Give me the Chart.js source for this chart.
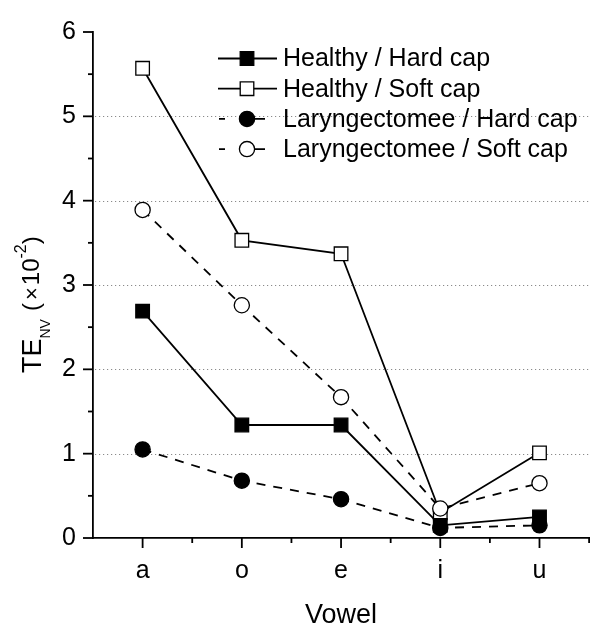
<!DOCTYPE html>
<html>
<head>
<meta charset="utf-8">
<script src="https://cdn.jsdelivr.net/npm/chart.js@4.4.1/dist/chart.umd.min.js"></script>
<style>
html,body{margin:0;padding:0;background:#fff;}
canvas{display:block;}
</style>
</head>
<body>
<canvas id="c" width="600" height="632"></canvas>
<script>
// ---- data ----
const categories = ['a', 'o', 'e', 'i', 'u'];
const healthyHard = [2.69, 1.34, 1.34, 0.15, 0.25];
const healthySoft = [5.57, 3.53, 3.37, 0.30, 1.01];
const laryHard    = [1.05, 0.68, 0.46, 0.12, 0.15];
const larySoft    = [3.89, 2.76, 1.67, 0.35, 0.65];
const seriesNames = ['Healthy / Hard cap', 'Healthy / Soft cap', 'Laryngectomee / Hard cap', 'Laryngectomee / Soft cap'];
const yTickValues = [0, 1, 2, 3, 4, 5, 6];
const yGridValues = [1, 2, 3, 4, 5];
const xTitle = 'Vowel';

const FONT = '"Liberation Sans", Arial, Helvetica, sans-serif';

function makeSet(label, data, style, filled, dashed) {
  return {
    label: label,
    data: data,
    borderColor: '#000',
    borderWidth: 1.8,
    borderDash: dashed ? [9, 8] : [],
    pointStyle: style,
    pointRadius: style === 'rect' ? 9.6 : 7.6,
    pointHoverRadius: style === 'rect' ? 9.6 : 7.6,
    pointBackgroundColor: filled ? '#000' : '#fff',
    pointBorderColor: '#000',
    pointBorderWidth: 1.3,
    tension: 0,
    fill: false,
    clip: false,
    order: dashed ? 0 : 1
  };
}

const datasets = [
  makeSet(seriesNames[0], healthyHard, 'rect', true, false),
  makeSet(seriesNames[1], healthySoft, 'rect', false, false),
  makeSet(seriesNames[2], laryHard, 'circle', true, true),
  makeSet(seriesNames[3], larySoft, 'circle', false, true)
];

// gridlines + tick marks through the chart's scales
const axesPlugin = {
  id: 'axesDecor',
  beforeDatasetsDraw(chart) {
    const {ctx, chartArea} = chart;
    const y = chart.scales.y;
    ctx.save();
    ctx.strokeStyle = '#8a8a8a';
    ctx.lineWidth = 1;
    ctx.setLineDash([1.2, 2.8]);
    yGridValues.forEach(v => {
      const py = Math.round(y.getPixelForValue(v)) + 0.5;
      ctx.beginPath();
      ctx.moveTo(chartArea.left + 2, py);
      ctx.lineTo(chartArea.right, py);
      ctx.stroke();
    });
    ctx.restore();
  },
  afterDraw(chart) {
    const {ctx, chartArea} = chart;
    const x = chart.scales.x, y = chart.scales.y;
    ctx.save();
    ctx.strokeStyle = '#000';
    ctx.lineWidth = 1.8;
    ctx.setLineDash([]);
    // y ticks (major at integers, minor at halves)
    for (let i = 0; i < yTickValues.length; i++) {
      const v = yTickValues[i];
      const py = y.getPixelForValue(v);
      ctx.beginPath(); ctx.moveTo(chartArea.left - 10, py); ctx.lineTo(chartArea.left, py); ctx.stroke();
      if (i < yTickValues.length - 1) {
        const pm = y.getPixelForValue((v + yTickValues[i + 1]) / 2);
        ctx.beginPath(); ctx.moveTo(chartArea.left - 5, pm); ctx.lineTo(chartArea.left, pm); ctx.stroke();
      }
    }
    // x ticks
    categories.forEach((c, i) => {
      const px = x.getPixelForValue(i);
      ctx.beginPath(); ctx.moveTo(px, chartArea.bottom); ctx.lineTo(px, chartArea.bottom + 10); ctx.stroke();
      const pm = x.getPixelForValue(i + 0.5);
      ctx.beginPath(); ctx.moveTo(pm, chartArea.bottom); ctx.lineTo(pm, chartArea.bottom + 5); ctx.stroke();
    });
    ctx.restore();

    // y axis title with subscript / superscript
    ctx.save();
    ctx.fillStyle = '#000';
    ctx.translate(40.5, 373);
    ctx.rotate(-Math.PI / 2);
    ctx.textBaseline = 'alphabetic';
    ctx.textAlign = 'left';
    const parts = [
      {t: 'TE', size: 27, dy: 0, gap: 0},
      {t: 'NV', size: 14, dy: 9.5, gap: 0},
      {t: '(', size: 24, dy: -2, gap: 8},
      {t: '\u00D7', size: 22, dy: -2, gap: 3},
      {t: '10', size: 24, dy: -2, gap: 2},
      {t: '-2', size: 16, dy: -14.5, gap: 0},
      {t: ')', size: 24, dy: -2, gap: 0}
    ];
    let cx = 0;
    parts.forEach(p => {
      cx += p.gap;
      ctx.font = p.size + 'px ' + FONT;
      ctx.fillText(p.t, cx, p.dy);
      cx += ctx.measureText(p.t).width;
    });
    ctx.restore();

    // legend
    ctx.save();
    chart.data.datasets.forEach((ds, i) => {
      const cy = 58.5 + i * 30.2;
      ctx.strokeStyle = '#000';
      ctx.lineWidth = 1.8;
      ctx.setLineDash([]);
      ctx.beginPath();
      if (ds.borderDash.length) {
        ctx.moveTo(219, cy); ctx.lineTo(225, cy);
        ctx.moveTo(254, cy); ctx.lineTo(265, cy);
      } else {
        ctx.moveTo(218, cy); ctx.lineTo(277, cy);
      }
      ctx.stroke();
      ctx.fillStyle = ds.pointBackgroundColor;
      ctx.lineWidth = ds.pointBorderWidth;
      ctx.beginPath();
      if (ds.pointStyle === 'rect') {
        const s = Math.SQRT1_2 * ds.pointRadius;
        ctx.rect(247 - s, cy - s, 2 * s, 2 * s);
      } else {
        ctx.arc(247, cy, ds.pointRadius, 0, Math.PI * 2);
      }
      ctx.fill();
      ctx.stroke();
      ctx.fillStyle = '#000';
      ctx.font = '25px ' + FONT;
      ctx.textBaseline = 'middle';
      ctx.textAlign = 'left';
      ctx.fillText(ds.label, 283, cy + 1);
    });
    ctx.restore();
  }
};

new Chart(document.getElementById('c'), {
  type: 'line',
  data: { labels: categories, datasets: datasets },
  plugins: [axesPlugin],
  options: {
    responsive: false,
    devicePixelRatio: 1,
    animation: false,
    layout: { padding: { left: 0, top: 18, right: 10, bottom: 0 } },
    plugins: { legend: { display: false }, tooltip: { enabled: false } },
    scales: {
      x: {
        type: 'category',
        offset: true,
        grid: { display: false, drawTicks: false },
        border: { display: true, color: '#000', width: 1.8 },
        ticks: { color: '#000', font: { family: FONT, size: 25 }, padding: 18, maxRotation: 0, autoSkip: false },
        title: { display: true, text: xTitle, color: '#000', font: { family: FONT, size: 27 }, padding: { top: 0, bottom: 0 } },
        afterFit(scale) { scale.height = 94; }
      },
      y: {
        type: 'linear',
        min: 0,
        max: 6,
        grid: { display: false, drawTicks: false },
        border: { display: true, color: '#000', width: 1.8 },
        ticks: {
          color: '#000', font: { family: FONT, size: 25 }, padding: 17, stepSize: 1,
          callback: v => (yTickValues.includes(v) ? String(v) : '')
        },
        afterFit(scale) { scale.width = 93; }
      }
    }
  }
});
</script>
</body>
</html>
